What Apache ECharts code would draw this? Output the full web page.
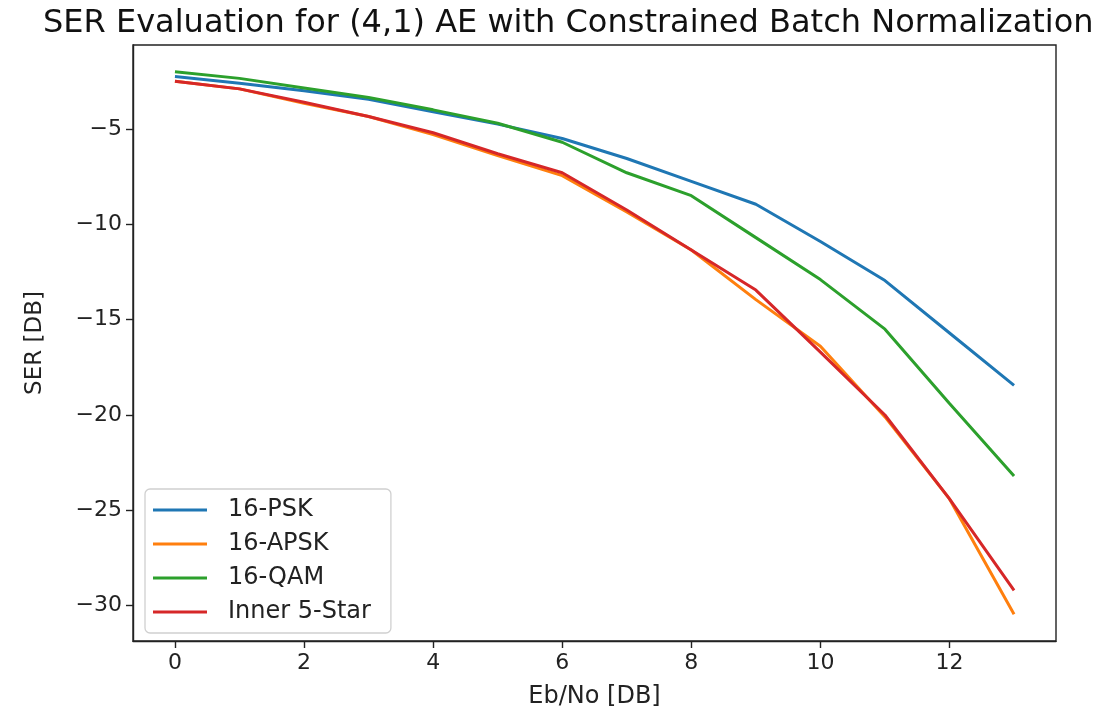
<!DOCTYPE html>
<html>
<head>
<meta charset="utf-8">
<script src="https://cdn.jsdelivr.net/npm/echarts@6/dist/echarts.min.js"></script>
<style>
html,body{margin:0;padding:0;background:#fff;}
#chart{width:1109px;height:714px;}
</style>
</head>
<body>
<div id="chart"></div>
<script>
const ebno = [0,1,2,3,4,5,6,7,8,9,10,11,12,13];
const psk16  = [-2.25,-2.6,-3.0,-3.45,-4.1,-4.75,-5.5,-6.55,-7.75,-8.95,-10.9,-12.95,-15.7,-18.45];
const apsk16 = [-2.5,-2.9,-3.65,-4.35,-5.3,-6.4,-7.45,-9.35,-11.35,-13.95,-16.4,-20.1,-24.4,-30.45];
const qam16  = [-2.0,-2.35,-2.85,-3.35,-4.0,-4.7,-5.7,-7.3,-8.5,-10.7,-12.9,-15.5,-19.4,-23.2];
const star5  = [-2.5,-2.9,-3.6,-4.35,-5.2,-6.3,-7.3,-9.25,-11.35,-13.45,-16.7,-20.0,-24.4,-29.2];
const seriesNames = ['16-PSK','16-APSK','16-QAM','Inner 5-Star'];
const xTicks = [0,2,4,6,8,10,12];
const yTicks = [-30,-25,-20,-15,-10,-5];
const titleText = 'SER Evaluation for (4,1) AE with Constrained Batch Normalization';

const colors = ['#1f77b4','#ff7f0e','#2ca02c','#d62728'];
const allData = [psk16, apsk16, qam16, star5];
const fmt = v => (v < 0 ? '\u2212' + Math.abs(v) : String(v));
const font = 'DejaVu Sans';

const chart = echarts.init(document.getElementById('chart'), null, {renderer:'canvas'});
chart.setOption({
  animation: false,
  backgroundColor: '#fff',
  color: colors,
  title: {
    text: titleText,
    left: 38, top: 3,
    textStyle: {fontFamily: font, fontSize: 32, fontWeight: 'normal', color: '#111'}
  },
  grid: {left: 133, right: 53, top: 45, bottom: 73, show: true, borderColor: '#222', borderWidth: 1.4, backgroundColor: 'transparent'},
  legend: {
    orient: 'vertical',
    left: 145, top: 489,
    data: seriesNames,
    icon: 'rect',
    itemWidth: 54, itemHeight: 3,
    itemGap: 10,
    padding: [9, 20, 9, 8],
    backgroundColor: '#fff',
    borderColor: '#d0d0d0', borderWidth: 1.3, borderRadius: 5,
    textStyle: {fontFamily: font, fontSize: 24, color: '#222', lineHeight: 23, padding: [0,0,0,16]}
  },
  xAxis: {
    type: 'value', min: -0.65, max: 13.65,
    name: 'Eb/No [DB]', nameLocation: 'middle', nameGap: 44,
    nameTextStyle: {fontFamily: font, fontSize: 24, color: '#222'},
    axisLine: {show: true, onZero: false, lineStyle: {color: '#222', width: 1.4}},
    axisTick: {show: true, customValues: xTicks, length: 7, lineStyle: {color: '#222', width: 1.4}},
    axisLabel: {customValues: xTicks, formatter: fmt, fontFamily: font, fontSize: 22, color: '#222', margin: 11},
    splitLine: {show: false}
  },
  yAxis: {
    type: 'value', min: -31.85, max: -0.6,
    name: 'SER [DB]', nameLocation: 'middle', nameGap: 86, nameRotate: 90,
    nameTextStyle: {fontFamily: font, fontSize: 23, color: '#222'},
    axisLine: {show: true, onZero: false, lineStyle: {color: '#222', width: 1.4}},
    axisTick: {show: true, customValues: yTicks, length: 7, lineStyle: {color: '#222', width: 1.4}},
    axisLabel: {customValues: yTicks, formatter: fmt, fontFamily: font, fontSize: 22, color: '#222', margin: 11},
    splitLine: {show: false}
  },
  series: seriesNames.map((n, i) => ({
    name: n,
    type: 'line',
    data: ebno.map((x, j) => [x, allData[i][j]]),
    showSymbol: false,
    symbol: 'none',
    lineStyle: {width: 3, color: colors[i]},
    itemStyle: {color: colors[i]}
  }))
});
</script>
</body>
</html>
